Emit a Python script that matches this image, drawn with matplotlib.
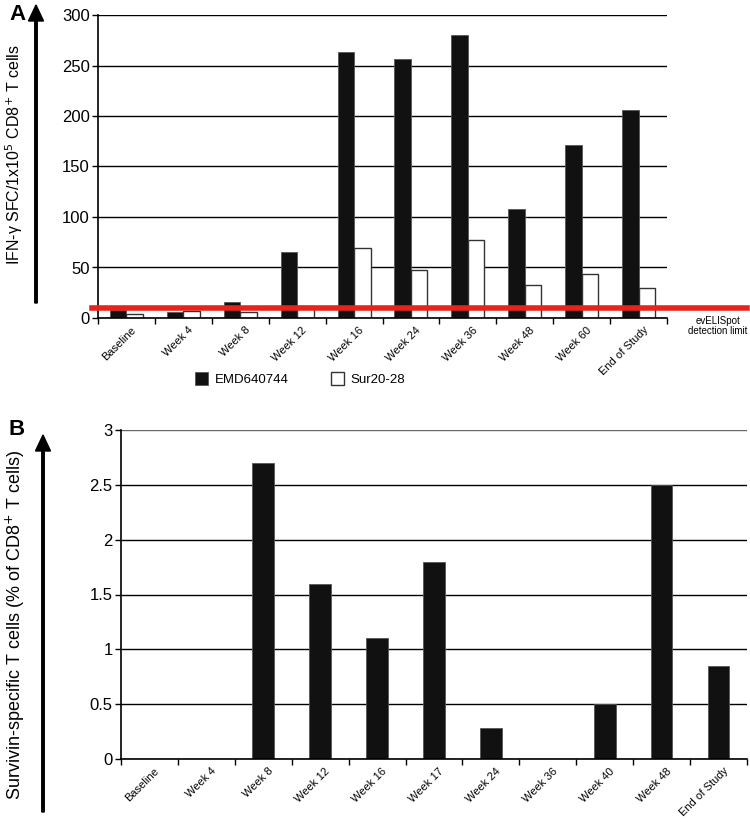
import matplotlib
matplotlib.use("Agg")
import matplotlib.pyplot as plt
import numpy as np
from matplotlib.patches import FancyArrow

# panel A data
weeks_a = ["Baseline", "Week 4", "Week 8", "Week 12", "Week 16", "Week 24",
           "Week 36", "Week 48", "Week 60", "End of Study"]
emd = [8, 6, 16, 65, 263, 256, 280, 108, 171, 206]
sur = [4, 7, 6, 12, 69, 48, 77, 33, 44, 30]
detection_limit = 10

# panel B data
weeks_b = ["Baseline", "Week 4", "Week 8", "Week 12", "Week 16", "Week 17",
           "Week 24", "Week 36", "Week 40", "Week 48", "End of Study"]
survivin = [0, 0, 2.7, 1.6, 1.1, 1.8, 0.28, 0, 0.5, 2.5, 0.85]

plt.rcParams['font.family'] = ['Liberation Sans', 'DejaVu Sans']

W, H = 750, 823
fig = plt.figure(figsize=(W / 100, H / 100), dpi=100)


def px_axes(left, top, right, bottom):
    return fig.add_axes([left / W, 1 - bottom / H, (right - left) / W, (bottom - top) / H])


def style(ax, n, labels):
    for s in ["top", "right"]:
        ax.spines[s].set_visible(False)
    ax.spines["left"].set_linewidth(1.2)
    ax.spines["bottom"].set_linewidth(1.2)
    ax.set_xlim(-0.5, n - 0.5)
    ax.set_xticks(np.arange(n) + 0.08)
    ax.set_xticklabels(labels, rotation=45, ha="right", rotation_mode="anchor",
                       fontsize=8)
    ax.tick_params(axis="x", which="major", length=0, pad=5)
    ax.set_xticks(np.arange(n + 1) - 0.5, minor=True)
    ax.tick_params(axis="x", which="minor", length=4, width=1)
    ax.tick_params(axis="y", length=4, width=1, labelsize=12, pad=2)
    ax.yaxis.grid(True, color="black", linewidth=1)
    ax.set_axisbelow(True)


# ---- panel A ----
axA = px_axes(98, 15, 667, 318)
x = np.arange(len(weeks_a))
bw = 0.29
axA.bar(x - bw / 2, emd, bw, color="#111111", edgecolor="#555555", linewidth=0.6,
        label="EMD640744", zorder=2)
axA.bar(x + bw / 2, sur, bw, color="white", edgecolor="#333333", linewidth=1,
        label="Sur20-28", zorder=2)
axA.set_ylim(0, 300)
axA.set_yticks(range(0, 301, 50))
style(axA, len(weeks_a), weeks_a)
axA.axhline(detection_limit, xmin=-0.01, xmax=1.14, color="#e8231c", linewidth=4,
            clip_on=False, zorder=3)
fig.text(718 / W, 1 - 326 / H, "evELISpot\ndetection limit", fontsize=7,
         ha="center", va="center", linespacing=1.1)

leg = axA.legend(loc="center", bbox_to_anchor=(300 / W, 1 - 379 / H),
                 bbox_transform=fig.transFigure, ncol=2, frameon=False,
                 fontsize=9.5, handlelength=1.0, handleheight=1.2,
                 columnspacing=3.2, handletextpad=0.5)

fig.text(14 / W, 1 - 155 / H, "IFN-γ SFC/1x10$^5$ CD8$^{+}$ T cells",
         rotation=90, ha="center", va="center", fontsize=11.5)
fig.text(9 / W, 1 - 14 / H, "A", fontsize=16, fontweight="bold",
         ha="left", va="center")
fig.add_artist(FancyArrow(36 / W, 1 - 303 / H, 0, (303 - 21) / H, width=2.5 / W,
                          head_width=15 / W, head_length=16 / H,
                          length_includes_head=False, color="black",
                          transform=fig.transFigure))

# ---- panel B ----
axB = px_axes(121, 430, 747, 759)
xb = np.arange(len(weeks_b))
axB.bar(xb, survivin, 0.38, color="#111111", edgecolor="#555555", linewidth=0.6,
        zorder=2)
axB.set_ylim(0, 3)
axB.set_yticks([0, 0.5, 1, 1.5, 2, 2.5, 3])
axB.set_yticklabels(["0", "0.5", "1", "1.5", "2", "2.5", "3"])
style(axB, len(weeks_b), weeks_b)
axB.get_ygridlines()[-1].set_color("#666666")

fig.text(15 / W, 1 - 625 / H, "Survivin-specific T cells (% of CD8$^{+}$ T cells)",
         rotation=90, ha="center", va="center", fontsize=13)
fig.text(9 / W, 1 - 430 / H, "B", fontsize=16, fontweight="bold",
         ha="left", va="center")
fig.add_artist(FancyArrow(43 / W, 1 - 812 / H, 0, (812 - 451) / H, width=2.5 / W,
                          head_width=15 / W, head_length=16 / H,
                          length_includes_head=False, color="black",
                          transform=fig.transFigure))

fig.savefig("out.png", dpi=100)
